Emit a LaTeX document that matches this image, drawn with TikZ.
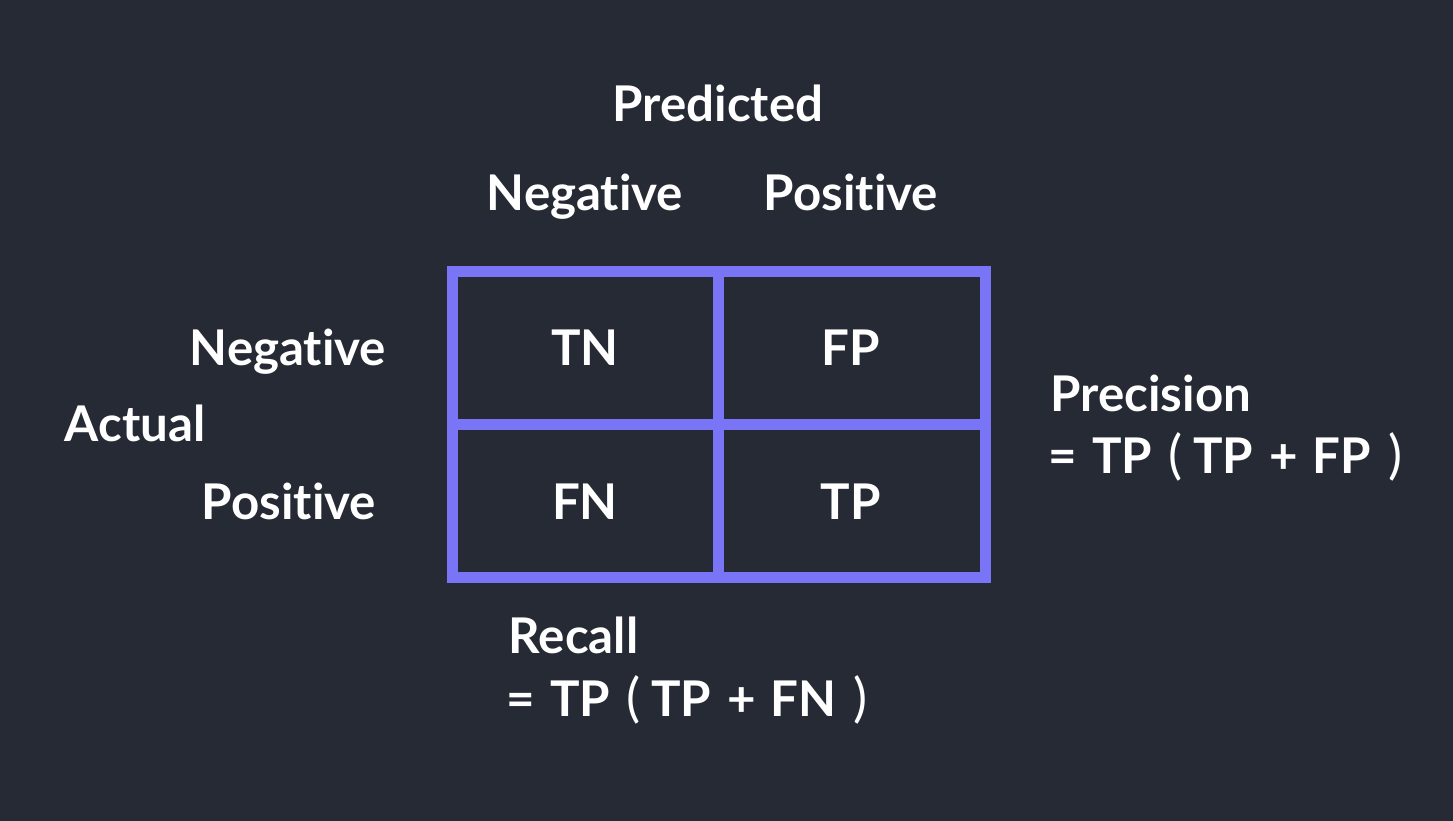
\documentclass[tikz,border=0pt]{standalone}
\usepackage{fontspec}
\setmainfont{Lato}[Ligatures=NoCommon]
\definecolor{bgcol}{HTML}{262A35}
\definecolor{gridcol}{HTML}{7A75F7}
\newcommand{\thinpar}[1]{{\fontsize{15pt}{17pt}\fontseries{m}\selectfont #1}}
\begin{document}
\begin{tikzpicture}[x=0.01cm, y=-0.01cm,
        txt/.style={text=white, font=\fontsize{14pt}{17pt}\selectfont\bfseries, inner sep=0pt},
        matline/.style={draw=gridcol, line width=0.11cm}
    ]

    % 背景
    \fill[bgcol] (0,0) rectangle (1453,821);
    \useasboundingbox (0,0) rectangle (1453,821);

    % 混淆矩阵的格子
    \draw[matline] (452.5,271.5) rectangle (985.5,577.5);
    \draw[matline] (718.5,271.5) -- (718.5,577.5);
    \draw[matline] (452.5,424.5) -- (985.5,424.5);

    % 列标题 (预测)
    \node[txt, anchor=base] (pred) at (718,122) {Predicted};
    \node[txt, anchor=base] (pneg) at (585,211) {Negative};
    \node[txt, anchor=base] (ppos) at (851,211) {Positive};

    % 行标题 (实际)
    \node[txt, anchor=base] (aneg) at (288,366) {Negative};
    \node[txt, anchor=base west] (act) at (64,442) {Actual};
    \node[txt, anchor=base] (apos) at (289,519) {Positive};

    % 四个格子
    \node[txt, anchor=base] (tn) at (585,366) {TN};
    \node[txt, anchor=base] (fp) at (851,366) {FP};
    \node[txt, anchor=base] (fn) at (585,519) {FN};
    \node[txt, anchor=base] (tp) at (851,519) {TP};

    % 精确率与召回率
    \node[txt, anchor=base west] (prec) at (1050,412) {Precision};
    \node[txt, anchor=base west] (precf) at (1048,473)
        {=\hspace{0.15cm}TP\hspace{0.16cm}\thinpar{(}\hspace{0.11cm}TP\hspace{0.16cm}+\hspace{0.15cm}FP\hspace{0.17cm}\thinpar{)}};
    \node[txt, anchor=base west] (rec) at (508,653) {Recall};
    \node[txt, anchor=base west] (recf) at (506,716)
        {=\hspace{0.15cm}TP\hspace{0.16cm}\thinpar{(}\hspace{0.11cm}TP\hspace{0.16cm}+\hspace{0.15cm}FN\hspace{0.17cm}\thinpar{)}};

\end{tikzpicture}
\end{document}
